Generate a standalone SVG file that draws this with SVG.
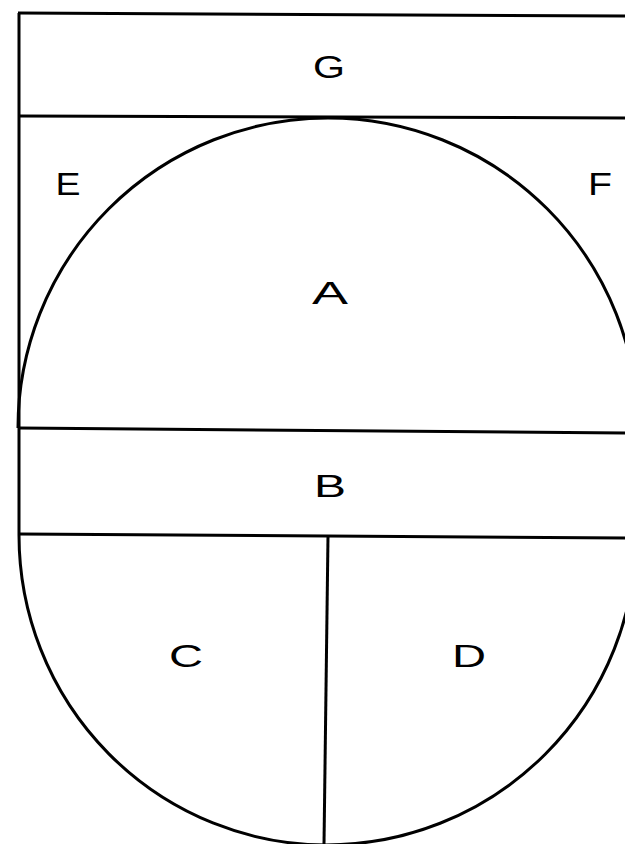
<svg xmlns="http://www.w3.org/2000/svg" width="625" height="844" viewBox="0 0 625 844">
<style>
.ln{fill:none;stroke:#000;stroke-width:3;stroke-linecap:butt}
.lb{font-family:"Liberation Sans","DejaVu Sans",sans-serif;font-size:32px;fill:#000;text-anchor:middle}
</style>
<rect width="625" height="844" fill="#fff"/>
<g id="connectors">
<path class="ln" d="M19,13 L19,535"/>
<path class="ln" d="M18,13 L625,16"/>
<path class="ln" d="M19,116 L625,118"/>
<path class="ln" d="M19,428 L625,433"/>
<path class="ln" d="M19,534 L625,538"/>
<path class="ln" d="M328,536 L324,844"/>
</g>
<g id="A">
<path class="ln" d="M18,428 A310,310 0 0 1 638,428"/>
<text class="lb" x="330" y="304" textLength="36" lengthAdjust="spacingAndGlyphs">A</text>
</g>
<g id="B"><text class="lb" x="330" y="497" textLength="32" lengthAdjust="spacingAndGlyphs">B</text></g>
<g id="C">
<path class="ln" d="M19,535 A308,310 0 0 0 326,845"/>
<text class="lb" x="186" y="667" textLength="34" lengthAdjust="spacingAndGlyphs">C</text>
</g>
<g id="D">
<path class="ln" d="M326,845 A310,310 0 0 0 636,535"/>
<text class="lb" x="469" y="667" textLength="34" lengthAdjust="spacingAndGlyphs">D</text>
</g>
<g id="E"><text class="lb" x="68" y="195" textLength="25" lengthAdjust="spacingAndGlyphs">E</text></g>
<g id="F"><text class="lb" x="600" y="195" textLength="24" lengthAdjust="spacingAndGlyphs">F</text></g>
<g id="G"><text class="lb" x="329" y="78" textLength="32" lengthAdjust="spacingAndGlyphs">G</text></g>
</svg>
